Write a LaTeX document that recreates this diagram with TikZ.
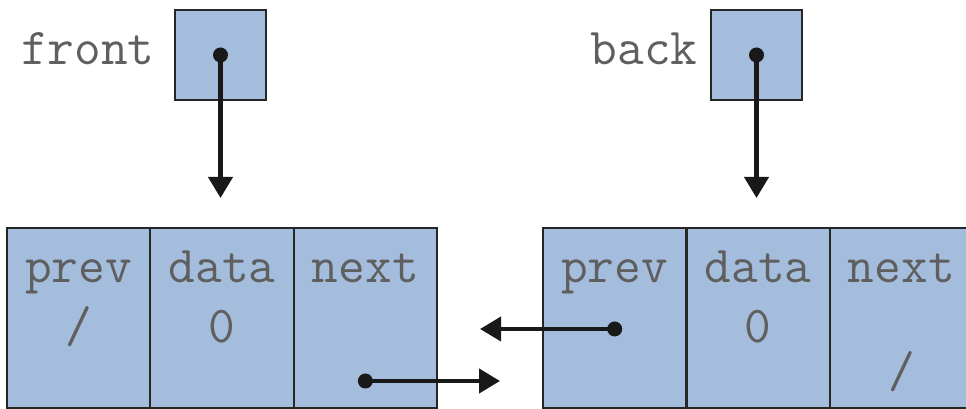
\documentclass[tikz,border=0pt]{standalone}
\usepackage{fontspec}
\usetikzlibrary{positioning,arrows.meta}
\definecolor{cellblue}{RGB}{165,189,221}
\definecolor{labelgray}{RGB}{95,95,95}
\tikzset{
  cell/.style={draw=black!85, line width=1.3pt, fill=cellblue, minimum width=2.867cm, minimum height=3.6cm, inner sep=0pt, outer sep=0pt},
  ptrbox/.style={cell, minimum width=1.82cm, minimum height=1.8cm},
  txt/.style={font=\ttfamily\fontsize{29.5}{33}\selectfont, text=labelgray, inner sep=0pt},
  ptr/.style={-{Triangle[length=0.42cm,width=0.48cm]}, line width=2.4pt, draw=black!90},
  dot/.style={circle, fill=black!90, minimum size=0.3cm, inner sep=0pt},
}
\begin{document}
\begin{tikzpicture}
  \useasboundingbox (0,0) rectangle (19.32,8.18);
  % front and back pointers
  \node[ptrbox] (front) at (4.41,7.08) {};
  \node[ptrbox] (back) at (15.13,7.08) {};
  \node[txt, anchor=base east] (frontlbl) at ([xshift=-0.40cm, yshift=-0.2cm]front.west) {front};
  \node[txt, anchor=base east] (backlbl) at ([xshift=-0.26cm, yshift=-0.2cm]back.west) {back};
  % left list node
  \node[cell, anchor=south west] (lprev) at (0.14,0.02) {};
  \node[cell, right=0pt of lprev] (ldata) {};
  \node[cell, right=0pt of ldata] (lnext) {};
  % right list node
  \node[cell, anchor=south west] (rprev) at (10.86,0.02) {};
  \node[cell, right=0pt of rprev] (rdata) {};
  \node[cell, right=0pt of rdata] (rnext) {};
  % field names
  \foreach \c/\t in {lprev/prev, ldata/data, lnext/next, rprev/prev, rdata/data, rnext/next}
    \node[txt, anchor=base] (\c-name) at ([yshift=-1.10cm]\c.north) {\t};
  % field values
  \node[txt, anchor=base] (lprev-val) at ([yshift=-2.30cm]lprev.north) {/};
  \node[txt, anchor=base] (ldata-val) at ([yshift=-2.30cm]ldata.north) {0};
  \node[txt, anchor=base] (rdata-val) at ([yshift=-2.30cm]rdata.north) {0};
  \node[txt, anchor=base] (rnext-val) at ([yshift=-3.20cm]rnext.north) {/};
  % pointer dots
  \node[dot] (fdot) at (front.center) {};
  \node[dot] (bdot) at (back.center) {};
  \node[dot] (ndot) at ([yshift=0.54cm]lnext.south) {};
  \node[dot] (pdot) at ([yshift=-0.22cm]rprev.center) {};
  \coordinate (ftip) at ([yshift=0.6cm]ldata.north);
  \coordinate (btip) at ([yshift=0.6cm]rdata.north);
  \coordinate (ntip) at ([xshift=-0.86cm]rprev.west |- ndot);
  \coordinate (ptip) at ([xshift=0.86cm]lnext.east |- pdot);
  \draw[ptr] (fdot.center) -- (fdot.center |- ftip);
  \draw[ptr] (bdot.center) -- (bdot.center |- btip);
  \draw[ptr] (ndot.center) -- (ntip);
  \draw[ptr] (pdot.center) -- (ptip);
\end{tikzpicture}
\end{document}
